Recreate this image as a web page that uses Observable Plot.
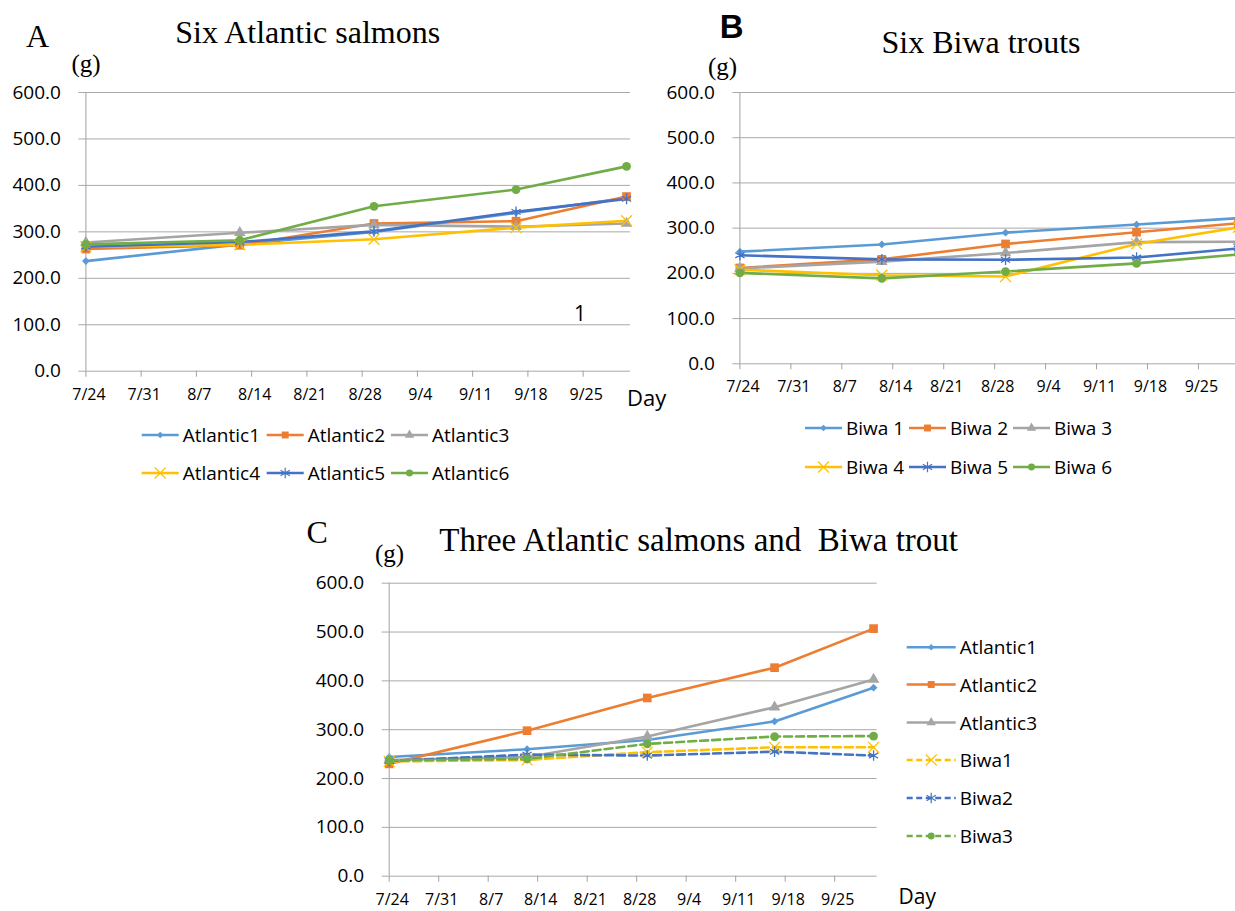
<!DOCTYPE html>
<html><head><meta charset="utf-8">
<script src="https://cdn.jsdelivr.net/npm/d3@7"></script>
<script src="https://cdn.jsdelivr.net/npm/@observablehq/plot@0.6"></script>
<style>
body{margin:0;background:#fff;}
#wrap{position:relative;width:1235px;height:911px;overflow:hidden;background:#fff;}
#wrap > svg, #wrap > figure{position:absolute;margin:0;}
</style></head><body>
<div id="wrap"></div>
<script>
// ---------- data ----------
const sampleDates = ["2016-07-24T00:00Z","2016-08-12T12:00Z","2016-08-29T12:00Z","2016-09-16T12:00Z","2016-09-30T12:00Z"];
const axisStart = "2016-07-24T00:00Z";
const axisEnd = "2016-10-01T00:00Z";
const xTickLabels = ["7/24","7/31","8/7","8/14","8/21","8/28","9/4","9/11","9/18","9/25"];
const yTicks = [0,100,200,300,400,500,600];

const atlanticNames = ["Atlantic1","Atlantic2","Atlantic3","Atlantic4","Atlantic5","Atlantic6"];
const atlantic1 = [237,273,300,341,373];
const atlantic2 = [263,271,318,323,376];
const atlantic3 = [277,298,315,311,318];
const atlantic4 = [268,272,284,309,324];
const atlantic5 = [268,278,301,343,371];
const atlantic6 = [273,282,355,391,441];

const biwaNames = ["Biwa 1","Biwa 2","Biwa 3","Biwa 4","Biwa 5","Biwa 6"];
const biwa1 = [248,264,290,308,322];
const biwa2 = [212,231,265,291,311];
const biwa3 = [211,226,245,269,270];
const biwa4 = [208,196,193,265,302];
const biwa5 = [240,231,230,235,255];
const biwa6 = [201,189,204,222,242];

const mixNames = ["Atlantic1","Atlantic2","Atlantic3","Biwa1","Biwa2","Biwa3"];
const mixAtlantic1 = [244,260,279,317,386];
const mixAtlantic2 = [230,298,365,427,507];
const mixAtlantic3 = [238,244,286,346,403];
const mixBiwa1 = [235,238,254,264,264];
const mixBiwa2 = [236,249,247,255,247];
const mixBiwa3 = [237,240,271,286,287];

// ---------- styles ----------
const colors6 = ["#5B9BD5","#ED7D31","#A5A5A5","#FFC000","#4472C4","#70AD47"];
const symbols6 = ["diamond2","square","triangle","times","asterisk","circle"];
const mixColors = ["#5B9BD5","#ED7D31","#A5A5A5","#FFC000","#4472C4","#70AD47"];
const mixSymbols = ["diamond2","square","triangle","times","asterisk","circle"];
const mixDash = [null,null,null,"8,4","8,4","8,4"];
const symRadius = {diamond2: 3.5, square: 4.9, triangle: 4.3, times: 5, asterisk: 5, circle: 4.4};
const gridColor = "#a9a9a9";
const axisColor = "#a0a0a0";
const symMap = {diamond2: d3.symbolDiamond2, square: d3.symbolSquare, triangle: d3.symbolTriangle,
  times: d3.symbolTimes, asterisk: d3.symbolAsterisk, circle: d3.symbolCircle};
const strokeSyms = new Set(["times","asterisk"]);

const parseTick = s => { const [m,d] = s.split("/").map(Number); return new Date(Date.UTC(2016, m-1, d)); };
const xTickDates = xTickLabels.map(parseTick);
const fmtDate = d => `${d.getUTCMonth()+1}/${d.getUTCDate()}`;
const fmtY = d3.format(".1f");

function table(names, series) {
  return names.map((n,i) => sampleDates.map((d,j) => ({name: n, date: new Date(d), value: series[i][j]})));
}

function panel({data, colors, symbols, dashes, width, height, ml, mr, mt, mb}) {
  const marks = [
    Plot.gridY(yTicks, {stroke: gridColor, strokeOpacity: 1, strokeWidth: 1}),
    Plot.axisY(yTicks, {tickSize: 7, tickFormat: () => "", stroke: gridColor, label: null}),
    Plot.axisY(yTicks, {tickSize: 0, tickPadding: 25, tickFormat: fmtY, fontSize: 19, label: null}),
    Plot.ruleX([new Date(axisStart)], {stroke: axisColor, strokeWidth: 1}),
    Plot.axisX(xTickDates, {tickSize: 6, tickFormat: () => "", stroke: axisColor, label: null}),
    Plot.axisX(xTickDates, {tickSize: 0, tickPadding: 17, dx: 3, tickFormat: fmtDate, fontSize: 16, label: null})
  ];
  data.forEach((rows, i) => {
    marks.push(Plot.line(rows, {x: "date", y: "value", stroke: colors[i], strokeWidth: 2.6,
      strokeDasharray: dashes ? dashes[i] : null}));
  });
  data.forEach((rows, i) => {
    const s = symbols[i];
    marks.push(Plot.dot(rows, strokeSyms.has(s)
      ? {x: "date", y: "value", symbol: s, r: symRadius[s], stroke: colors[i], strokeWidth: 1.3, fill: "none"}
      : {x: "date", y: "value", symbol: s, r: symRadius[s], fill: colors[i], stroke: "none"}));
  });
  return Plot.plot({
    width, height, marginLeft: ml, marginRight: mr, marginTop: mt, marginBottom: mb,
    style: {fontFamily: "'Open Sans', sans-serif", color: "#000", background: "transparent", overflow: "visible"},
    x: {type: "utc", domain: [new Date(axisStart), new Date(axisEnd)]},
    y: {domain: [0, 600]},
    marks
  });
}

const wrap = document.getElementById("wrap");
function place(node, left, top) { node.style.left = left + "px"; node.style.top = top + "px"; wrap.appendChild(node); }

const dataA = table(atlanticNames, [atlantic1,atlantic2,atlantic3,atlantic4,atlantic5,atlantic6]);
const dataB = table(biwaNames, [biwa1,biwa2,biwa3,biwa4,biwa5,biwa6]);
const dataC = table(mixNames, [mixAtlantic1,mixAtlantic2,mixAtlantic3,mixBiwa1,mixBiwa2,mixBiwa3]);

place(panel({data: dataA, colors: colors6, symbols: symbols6, width: 660, height: 420, ml: 85.4, mr: 30, mt: 92, mb: 49.3}), 0, 0);
place(panel({data: dataB, colors: colors6, symbols: symbols6, width: 612, height: 410, ml: 99.4, mr: 10.4, mt: 92, mb: 46.7}), 640, 0);
place(panel({data: dataC, colors: mixColors, symbols: mixSymbols, dashes: mixDash, width: 600, height: 411, ml: 98.7, mr: 13.4, mt: 82.7, mb: 35.3}), 290, 500);

// ---------- overlay: titles, labels, legends ----------
const ov = d3.create("svg").attr("width", 1235).attr("height", 911).style("left","0px").style("top","0px").style("pointer-events","none");
wrap.appendChild(ov.node());
function txt(x, y, s, opts = {}) {
  const t = ov.append("text").attr("x", x).attr("y", y).text(s)
    .attr("font-family", opts.family || "'Liberation Serif', serif")
    .attr("font-size", opts.size || 32)
    .attr("fill", "#000");
  if (opts.anchor) t.attr("text-anchor", opts.anchor);
  if (opts.weight) t.attr("font-weight", opts.weight);
  if (opts.central) t.attr("dominant-baseline", "central");
  t.style("white-space", "pre");
  return t;
}
const sans = "'Open Sans', sans-serif";
// Panel A
txt(26, 46.7, "A", {size: 32});
txt(307.7, 42.7, "Six Atlantic salmons", {size: 32, anchor: "middle"});
txt(71.5, 72, "(g)", {size: 25});
txt(627, 397, "Day", {family: sans, size: 22, central: true});
txt(580, 313, "1", {family: sans, size: 21, anchor: "middle", central: true});
// Panel B
txt(719.7, 37.7, "B", {family: "'Liberation Sans', Arial, sans-serif", size: 33, weight: "bold"});
txt(981, 53.3, "Six Biwa trouts", {size: 32, anchor: "middle"});
txt(708, 75, "(g)", {size: 25});
// Panel C
txt(306.6, 543.3, "C", {size: 32});
txt(439.3, 550.7, "Three Atlantic salmons and  Biwa trout", {size: 33});
txt(375, 562, "(g)", {size: 25});
txt(898.6, 896, "Day", {family: sans, size: 21, central: true});

function legendItem(x, y, color, sym, dash, len, label) {
  ov.append("line").attr("x1", x).attr("x2", x + len).attr("y1", y).attr("y2", y)
    .attr("stroke", color).attr("stroke-width", 2.6).attr("stroke-dasharray", dash || null);
  const size = strokeSyms.has(sym) ? 80 : sym === "square" ? 48 : sym === "diamond2" ? 26 : 38;
  const p = ov.append("path").attr("d", d3.symbol(symMap[sym], size)())
    .attr("transform", `translate(${x + len / 2},${y})`);
  if (strokeSyms.has(sym)) p.attr("fill", "none").attr("stroke", color).attr("stroke-width", 1.2);
  else p.attr("fill", color);
  txt(x + len + 4, y, label, {family: sans, size: 19, central: true});
}
const legAx = [141.7, 266.7, 391];
atlanticNames.forEach((n, i) => legendItem(legAx[i % 3], i < 3 ? 435 : 473, colors6[i], symbols6[i], null, 37, n));
const legBx = [805, 909, 1013];
biwaNames.forEach((n, i) => legendItem(legBx[i % 3], i < 3 ? 428 : 467, colors6[i], symbols6[i], null, 37, n));
const legCy = [647.3, 684.5, 722.5, 760, 798, 836];
mixNames.forEach((n, i) => legendItem(906.7, legCy[i], mixColors[i], mixSymbols[i], mixDash[i] ? "6,3.5" : null, 49, n));
</script>
</body></html>
